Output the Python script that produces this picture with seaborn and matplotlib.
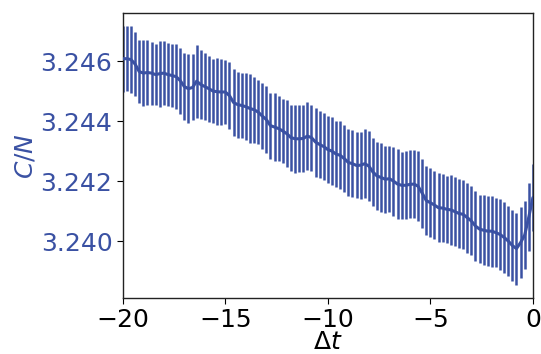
import numpy as np
import pandas as pd
import matplotlib
matplotlib.use("Agg")
import matplotlib.pyplot as plt
import seaborn as sns

# === Data ===
dt = np.round(np.arange(-20.0, 0.0001, 0.2), 1)

# C/N mean, stored as offsets from 3.24 in units of 1e-5
cn_offset = [
    608, 608, 605, 590, 565, 560, 562, 560, 555, 558,
    560, 555, 552, 548, 535, 515, 508, 512, 533, 522,
    515, 508, 500, 498, 497, 497, 485, 462, 455, 452,
    448, 442, 438, 430, 417, 405, 385, 380, 375, 367,
    358, 345, 341, 341, 342, 350, 345, 330, 322, 315,
    305, 300, 290, 286, 275, 262, 258, 252, 253, 258,
    250, 230, 217, 212, 206, 208, 200, 190, 186, 186,
    189, 190, 183, 160, 135, 128, 120, 111, 110, 106,
    104, 98, 92, 89, 78, 67, 50, 40, 36, 33,
    33, 28, 22, 12, 0, -15, -25, -5, 20, 80,
    145,
]

# error bar half widths, units of 1e-5
cn_err = [
    110, 108, 112, 106, 104, 110, 107, 105, 103, 110,
    108, 106, 104, 108, 110, 112, 114, 110, 122, 115,
    112, 110, 108, 112, 110, 107, 112, 113, 110, 108,
    112, 114, 110, 106, 111, 112, 110, 113, 109, 108,
    112, 110, 114, 112, 113, 112, 110, 115, 112, 111,
    113, 112, 110, 114, 112, 113, 111, 110, 112, 115,
    116, 112, 113, 114, 112, 110, 115, 116, 112, 114,
    113, 112, 116, 115, 114, 116, 113, 115, 114, 112,
    116, 115, 114, 116, 117, 115, 116, 114, 117, 116,
    118, 115, 117, 118, 116, 119, 120, 118, 112, 114,
    112,
]

df = pd.DataFrame({
    "dt": dt,
    "cn": 3.24 + np.array(cn_offset) * 1e-5,
    "err": np.array(cn_err) * 1e-5,
})

# === Plotting ===
sns.set_style("ticks")
plt.rcParams["font.family"] = ["DejaVu Sans"]
plt.rcParams["text.color"] = "black"
plt.rcParams["xtick.color"] = "black"
plt.rcParams["ytick.color"] = "black"
plt.rcParams["axes.labelcolor"] = "black"
color = "#3a51a3"

fig = plt.figure(figsize=(5.41, 3.54), dpi=100)
ax = fig.add_axes([0.227, 0.158, 0.758, 0.805])

ax.errorbar(df["dt"], df["cn"], yerr=df["err"], fmt="none",
            ecolor=color, elinewidth=1.8, capsize=0, zorder=2)
sns.lineplot(data=df, x="dt", y="cn", color=color, linewidth=2.2, ax=ax, zorder=3)

ax.set_xlim(-20, 0)
ax.set_ylim(3.2381, 3.2476)
ax.set_xticks([-20, -15, -10, -5, 0])
ax.set_yticks([3.240, 3.242, 3.244, 3.246])
ax.yaxis.set_major_formatter(matplotlib.ticker.FormatStrFormatter("%.3f"))

ax.set_xlabel(r"$\Delta t$", fontsize=18, labelpad=-1.5)
ax.set_ylabel(r"$C/N$", fontsize=18, color=color, labelpad=2)
ax.tick_params(axis="x", labelsize=18, length=4, colors="black")
ax.tick_params(axis="y", labelsize=18, length=4, labelcolor=color)
for s in ax.spines.values():
    s.set_color("#222222")
    s.set_linewidth(1.0)

fig.savefig("out.png", dpi=100)
